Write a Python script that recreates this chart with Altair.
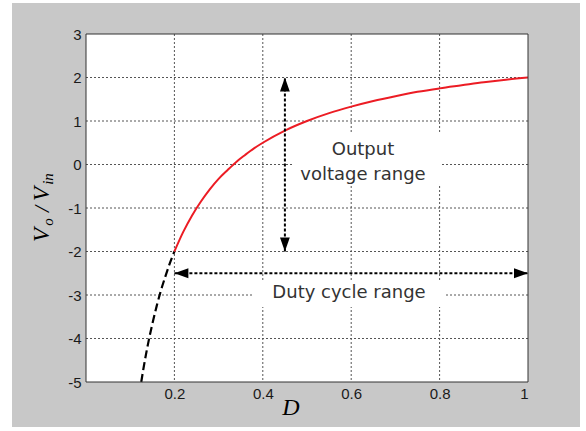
import altair as alt
import pandas as pd

# ---- data ----
d_dashed = [0.125, 0.13, 0.14, 0.15, 0.16, 0.17, 0.18, 0.19, 0.2]
v_dashed = [-5.0, -4.69, -4.14, -3.67, -3.25, -2.88, -2.56, -2.26, -2.0]

d_solid = [0.2, 0.22, 0.24, 0.26, 0.28, 0.30, 0.32, 0.34, 0.36, 0.38, 0.40,
           0.45, 0.5, 0.55, 0.6, 0.65, 0.7, 0.75, 0.8, 0.85, 0.9, 0.95, 1.0]
v_solid = [-2.0, -1.55, -1.17, -0.85, -0.57, -0.33, -0.13, 0.06, 0.22, 0.37, 0.5,
           0.78, 1.0, 1.18, 1.33, 1.46, 1.57, 1.67, 1.75, 1.82, 1.89, 1.95, 2.0]

x_ticks = [0.2, 0.4, 0.6, 0.8, 1]
y_ticks = [-5, -4, -3, -2, -1, 0, 1, 2, 3]
x_grid = [0.2, 0.4, 0.6, 0.8]
y_grid = [-4, -3, -2, -1, 0, 1, 2]

# arrows (data coordinates)
v_arrow_d = [0.45]
v_arrow_lo = [-2.0]
v_arrow_hi = [2.0]
h_arrow_v = [-2.5]
h_arrow_lo = [0.2]
h_arrow_hi = [1.0]

W, H = 442, 348
SANS = "Liberation Sans"
ANNO = "DejaVu Sans"
SERIF = "Liberation Serif"

xs = alt.Scale(domain=[0, 1], nice=False, zero=False)
ys = alt.Scale(domain=[-5, 3], nice=False, zero=False)

one = pd.DataFrame({"k": [0]})

LBL = "'' + datum.value"
X = lambda f: alt.X(f, type="quantitative", scale=xs,
                     axis=alt.Axis(values=x_ticks, title=None, grid=False, domain=False,
                                   ticks=False, labelPadding=4, zindex=1, labelExpr=LBL))
Y = lambda f: alt.Y(f, type="quantitative", scale=ys,
                     axis=alt.Axis(values=y_ticks, title=None, grid=False, domain=False,
                                   ticks=False, labelPadding=5, zindex=1, labelExpr=LBL))

# background panels
gray_bg = alt.Chart(one).mark_rect(color="#c8c8c8").encode(
    x=alt.value(-74), x2=alt.value(494), y=alt.value(-31), y2=alt.value(393))
white_bg = alt.Chart(one).mark_rect(color="white").encode(
    x=alt.value(0), x2=alt.value(W), y=alt.value(0), y2=alt.value(H))

# grid
vgrid = alt.Chart(pd.DataFrame({"x": x_grid})).mark_rule(
    color="#555", strokeWidth=1, strokeDash=[2, 2]).encode(
    x=X("x"), y=alt.value(0), y2=alt.value(H))
hgrid = alt.Chart(pd.DataFrame({"y": y_grid})).mark_rule(
    color="#555", strokeWidth=1, strokeDash=[2, 2]).encode(
    y=Y("y"), x=alt.value(0), x2=alt.value(W))

# white boxes behind annotations
box1 = alt.Chart(one).mark_rect(color="white").encode(
    x=alt.value(206), x2=alt.value(356), y=alt.value(99), y2=alt.value(152))
box2 = alt.Chart(one).mark_rect(color="white").encode(
    x=alt.value(166), x2=alt.value(359), y=alt.value(248), y2=alt.value(273))

# curves
dashed = alt.Chart(pd.DataFrame({"d": d_dashed, "v": v_dashed})).mark_line(
    color="black", strokeWidth=2.2, strokeDash=[8, 4], interpolate="monotone").encode(
    x=X("d"), y=Y("v"))
solid = alt.Chart(pd.DataFrame({"d": d_solid, "v": v_solid})).mark_line(
    color="#ec1c24", strokeWidth=2, interpolate="monotone").encode(
    x=X("d"), y=Y("v"))

# arrows
vdf = pd.DataFrame({"d": v_arrow_d, "lo": v_arrow_lo, "hi": v_arrow_hi})
hdf = pd.DataFrame({"v": h_arrow_v, "lo": h_arrow_lo, "hi": h_arrow_hi})
varrow = alt.Chart(vdf).mark_rule(color="black", strokeWidth=2, strokeDash=[3, 2]).encode(
    x=X("d"), y=Y("lo"), y2="hi")
harrow = alt.Chart(hdf).mark_rule(color="black", strokeWidth=2, strokeDash=[3, 2]).encode(
    y=Y("v"), x=X("lo"), x2="hi")
up_head = alt.Chart(vdf).mark_point(shape="M0,-1L-0.7,1L0.7,1Z", filled=True, opacity=1,
                                    color="black", size=196, yOffset=7).encode(
    x=X("d"), y=Y("hi"))
down_head = alt.Chart(vdf).mark_point(shape="M0,1L-0.7,-1L0.7,-1Z", filled=True, opacity=1,
                                      color="black", size=196, yOffset=-7).encode(
    x=X("d"), y=Y("lo"))
left_head = alt.Chart(hdf).mark_point(shape="M-1,0L1,-0.7L1,0.7Z", filled=True, opacity=1,
                                      color="black", size=196, xOffset=7).encode(
    x=X("lo"), y=Y("v"))
right_head = alt.Chart(hdf).mark_point(shape="M1,0L-1,-0.7L-1,0.7Z", filled=True, opacity=1,
                                       color="black", size=196, xOffset=-7).encode(
    x=X("hi"), y=Y("v"))

# annotation text
def txt(s, x, y, size=16, font=SANS, style="normal", angle=0, color="#222"):
    kw = dict(text=s, fontSize=size, font=font, fontStyle=style, color=color,
              align="center", baseline="middle")
    if angle:
        kw["angle"] = angle
    return alt.Chart(one).mark_text(**kw).encode(x=alt.value(x), y=alt.value(y))

t1 = txt("Output", 277, 116, size=18, font=ANNO, color="#333")
t2 = txt("voltage range", 277, 141, size=18, font=ANNO, color="#333")
t3 = txt("Duty cycle range", 263, 259, size=18, font=ANNO, color="#333")
tD = txt("D", 205, 374, size=24, font=SERIF, style="italic", color="black")
# y title: V_o / V_in (rotated)
ty1 = txt("V", -44, 201, size=23, font=SERIF, style="italic", angle=270, color="black")
ty2 = txt("o", -38, 188, size=15, font=SERIF, style="italic", angle=270, color="black")
ty3 = txt("/", -44, 175, size=22, font=SERIF, style="italic", angle=270, color="black")
ty4 = txt("V", -44, 160, size=23, font=SERIF, style="italic", angle=270, color="black")
ty5 = txt("in", -38, 145, size=15, font=SERIF, style="italic", angle=270, color="black")

border = alt.Chart(one).mark_rect(fillOpacity=0, stroke="#333", strokeWidth=1).encode(
    x=alt.value(0), x2=alt.value(W), y=alt.value(0), y2=alt.value(H))

chart = alt.layer(
    gray_bg, white_bg, vgrid, hgrid, box1, box2, dashed, solid,
    varrow, harrow, up_head, down_head, left_head, right_head,
    t1, t2, t3, tD, ty1, ty2, ty3, ty4, ty5, border
).properties(
    width=W, height=H,
    autosize=alt.AutoSizeParams(type="none"),
    padding={"left": 86, "top": 34, "right": 58, "bottom": 49},
    background="white",
).configure_view(stroke=None).configure_axis(
    labelFont=SANS, labelFontSize=15, labelColor="#1a1a1a"
)

chart.save("out.html", embed_options={"renderer": "svg", "actions": False})
